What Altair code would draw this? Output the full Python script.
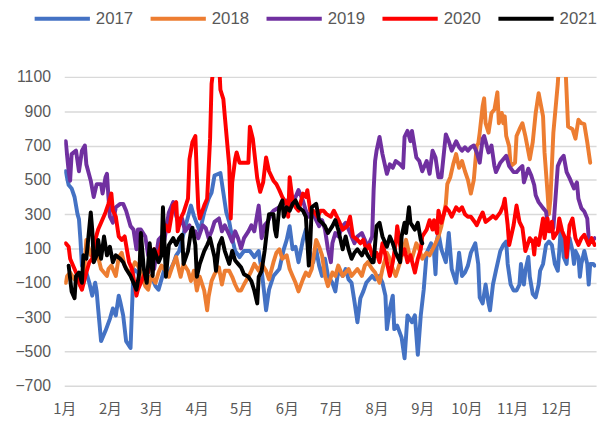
import altair as alt
import pandas as pd

years = ["2017", "2018", "2019", "2020", "2021"]
colors = ["#4472C4", "#ED7D31", "#7030A0", "#FF0000", "#000000"]
line_widths = [4, 4, 4, 4, 7]
month_start_days = [0, 31, 59, 90, 120, 151, 181, 212, 243, 273, 304, 334]
y_ticks = [-700, -500, -300, -100, 100, 300, 500, 700, 900, 1100]

d2017 = [1,3,5,7,9,10,11,12,15,17, 19,21,22,23,25,28,31,33,35,37, 38,40,42,45,47,50,52,55,57,59,
         62,64,66,68,71,74,76,78,82,86, 88,92,95,98,100,102,106,108,110,112, 114,116,119,122,126,129,132,134,136,137,
         139,142,146,149,151,153,155,157,159,162, 164,166,169,171,173,175,177,179,182,184, 186,189,191,193,195,197,199,201,203,205,
         209,211,214,216,218,219,221,223,224,226, 229,231,233,236,238,240,242,244,246,249, 251,252,253,254,256,259,261,263,266,268,
         270,272,274,276,279,281,282,284,286,288, 289,290,291,293,296,298,300,301,303,305, 307,309,310,311,312,313,315,316,318,320,
         322,323,325,327,329,331,333,335,336,337, 338,339,341,342,343,345,346,347,349,350, 351,353,355,356,357,359,360]
v2017 = [550,470,450,400,300,270,150,0,-40,-100, -175,-100,-150,-250,-440,-380,-310,-250,-290,-175, -210,-290,-440,-480,-20,-40,-100,-60,-100,-60,
         -120,-140,-80,-20,-40,10,60,85,220,350, 290,200,310,390,425,525,540,425,310,255, 160,85,50,85,85,50,85,-30,-180,-260,
         -140,-60,-20,95,150,230,95,110,20,150, 210,95,20,95,0,-60,40,-60,-100,-150, -30,-60,-20,-80,-100,-210,-330,-190,-150,-100,
         -60,-80,-60,-100,-175,-370,-250,-175,-370,-350, -420,-540,-290,-330,-290,-520,-290,-140,75,130, 75,-50,150,190,95,20,190,-20,-100,75,
         -60,-40,0,75,130,10,-185,-220,-110,-220, -260,-185,-110,-30,85,120,140,10,-110,-145, -145,-110,10,-65,-110,-30,50,-65,-165,-185,
         -110,-30,10,120,140,120,10,-30,85,220, 160,50,10,120,160,85,10,85,50,-65, 10,85,10,-110,10,10,0]

d2018 = [1,2,4,7,9,11,13,15,18,20, 23,25,29,30,32,35,37,39,41,44, 46,48,50,52,55,57,59,62,64,66,
         69,71,74,76,78,79,81,84,86,88, 90,92,95,97,98,100,102,105,107,109, 112,114,116,118,120,122,125,127,129,132,
         134,137,139,142,144,146,148,151,153,155, 157,159,162,164,166,168,171,173,175,177, 179,182,184,186,189,191,193,195,197,199,
         202,204,206,209,211,212,214,216,219,221, 223,225,228,230,232,234,236,239,241,243, 246,248,250,252,254,256,259,260,262,264,
         266,268,270,272,274,276,278,280,281,282, 284,285,286,288,290,292,294,295,297,298, 299,300,302,303,306,307,309,311,313,316,
         318,320,322,325,326,328,329,330,332,335, 336,338,340,342,345,347,349,351,353,355, 357]
v2018 = [-100,-60,-40,-80,-60,-120,-100,150,60,100, 50,-20,-60,-20,0,-60,50,75,0,-40, -20,20,0,-40,-120,-140,-60,-100,-40,0,
         -30,-65,10,50,-30,-65,10,-30,-90,-30, -145,-65,-145,-260,-180,-90,-50,-10,-110,-30, -30,-65,-110,-145,-145,-110,-65,-30,10,-30,
         10,-30,-80,20,75,95,40,60,-20,-60, -100,-150,-80,-40,-60,-20,150,110,60,-60, -120,-40,-60,0,-60,-40,-20,-60,-40,-20,
         -60,0,20,-20,-40,-60,-100,-20,75,40, -20,-60,20,95,150,75,40,130,95,40, 75,60,95,130,170,230,360,475,515,590,
         650,570,610,550,500,420,500,700,710,775, 930,975,830,775,890,910,1010,830,890,830, 870,755,695,580,600,755,795,830,755,620,
         720,890,1005,870,660,430,300,390,775,1060, 1200,1200,1200,810,795,740,850,830,825,720, 600]

d2019 = [1,3,4,5,8,10,12,14,15,18, 20,22,25,26,28,29,30,31,33,35, 38,40,42,45,47,49,50,52,55,57,
         59,61,64,66,68,71,74,76,78,80, 82,85,87,89,91,94,96,98,100,102, 105,107,109,112,114,116,118,120,122,125,
         127,129,132,134,136,138,141,142,146,151, 155,159,162,164,166,168,171,173,175,177, 179,181,182,184,186,189,191,193,195,197,
         199,202,204,206,209,210,211,212,214,216, 219,221,223,225,228,230,231,233,235,236, 239,241,243,246,248,250,252,254,256,259,
         261,263,266,268,270,272,274,276,278,280, 282,284,285,288,290,292,293,296,298,300, 302,305,307,309,311,312,315,317,319,320,
         322,325,327,328,330,332,335,337,339,341, 343,346,348,349,351,353,355,356,358,360]
v2019 = [725,550,495,650,670,550,670,700,590,495, 400,475,475,420,515,535,400,285,250,340, 360,360,320,230,210,95,210,210,170,60,
         20,-20,150,170,150,310,370,290,235,275, 200,235,180,200,160,235,220,160,200,255, 275,200,235,180,140,200,160,100,160,200,
         235,200,350,160,235,255,310,320,340,380, 360,440,380,320,285,320,265,230,265,210, 95,20,130,190,170,230,250,210,170,130,
         170,190,150,110,170,440,610,670,750,650, 535,590,570,610,590,570,750,785,725,785, 630,610,550,610,535,670,630,515,515,765,
         725,670,725,690,670,690,670,690,700,660, 600,740,755,660,700,580,545,600,620,640, 580,545,545,565,580,485,565,525,470,410,
         370,335,315,255,200,220,580,620,640,545, 510,450,485,390,335,315,275,160,140,160]

d2020 = [1,3,4,7,9,10,12,15,17,19, 21,23,25,28,30,32,33,35,37,39, 41,44,46,48,49,50,52,55,57,59,
         61,64,66,67,69,71,74,76,77,79, 81,84,85,87,89,90,91,92,95,97, 99,100,102,103,105,106,108,109,112,113,
         114,116,117,119,122,125,126,128,131,133, 135,137,139,142,144,146,148,151,152,153, 155,157,159,162,164,165,167,169,172,174,
         176,178,181,183,185,187,189,192,194,196, 199,201,203,205,207,209,212,214,216,218, 220,221,223,225,226,229,231,233,235,238,
         240,242,243,246,248,250,251,253,254,256, 259,261,263,266,268,270,272,274,276,279, 280,282,284,286,289,291,293,296,298,299,
         301,302,305,307,309,311,313,316,318,319, 320,322,325,326,328,329,331,332,335,336, 338,340,341,343,345,347,349,351,353,356,
         358,360]
v2020 = [130,110,40,-20,-60,-100,-140,-40,20,40, 150,210,250,310,360,420,320,285,170,150, 170,20,-20,-120,-175,-140,-100,-40,-40,60,
         95,60,130,160,235,200,350,370,200,275, 310,390,620,720,755,525,335,275,350,390, 740,1060,1200,1200,1200,1025,970,870,580,275,
         485,620,660,600,600,600,810,740,510,430, 485,630,550,495,475,440,400,360,285,515, 380,340,320,420,400,440,320,320,285,320,
         320,300,285,320,285,250,210,230,285,170, 150,130,150,95,120,60,75,20,130,60, -20,-60,20,130,230,60,95,20,60,-40,
         40,95,170,210,265,210,265,190,320,250, 340,320,285,340,320,340,300,285,285,250, 235,275,310,255,275,290,275,310,350,390,
         235,120,235,350,255,220,85,160,140,65, 160,120,275,160,275,200,255,160,200,275, 200,160,50,235,275,160,120,160,180,120,
         160,120]

d2021 = [3,5,7,8,10,12,13,15,18,19, 20,22,23,25,27,29,31,33,35,38, 40,42,45,47,49,51,52,54,56,58,
         60,61,64,66,67,69,71,74,76,78, 80,81,84,86,87,89,90,92,95,97, 99,102,103,105,107,109,112,114,116,118,
         120,122,125,127,129,131,132,134,136,138, 139,142,143,144,146,148,149,151,153,155, 157,159,162,164,166,167,168,171,173,175,
         177,179,182,184,186,189,191,193,195,197, 199,202,204,206,209,210,212,214,216,219, 221,223,225,228,229,231,232,234,235,238,
         240,242,243]
v2021 = [0,-150,-190,-60,-40,-100,60,40,310,210, 20,60,150,40,170,60,110,20,60,40, 20,-20,-60,-100,-140,-40,190,-20,-100,130,
         -60,95,20,60,340,-65,120,160,120,160, 180,10,85,200,220,120,-65,10,85,120, 160,50,-30,120,160,85,10,85,30,10,
         -10,-50,-65,-90,-145,-220,-65,-30,85,235, 300,300,210,170,340,380,285,340,320,360, 380,340,320,285,0,130,340,360,265,250,
         230,190,230,265,210,95,170,95,40,75, 95,60,95,60,20,20,230,250,170,110, 170,130,75,20,170,250,190,340,250,210,
         250,150,130]

rows = []
for yr, ds, vs in zip(years, [d2017, d2018, d2019, d2020, d2021], [v2017, v2018, v2019, v2020, v2021]):
    for i, (d, v) in enumerate(zip(ds, vs)):
        rows.append({"year": yr, "day": d, "value": v, "i": i})
df = pd.DataFrame(rows)

CJK_FONT = "Noto Sans CJK SC"
NUM_FONT = "Liberation Sans"
GRAY = "#595959"

chart = alt.Chart(df).mark_line(clip=True, strokeCap="round", strokeJoin="round").encode(
    x=alt.X("day:Q",
            scale=alt.Scale(domain=[0, 361], nice=False, zero=False),
            axis=alt.Axis(values=month_start_days,
                          labelExpr="(month(datetime(2021, 0, 1 + datum.value)) + 1) + '月'",
                          grid=False, domain=False, ticks=False, labelPadding=16,
                          labelFontSize=15, labelColor=GRAY, labelFont=CJK_FONT,
                          labelFlush=False, labelOverlap=False, title=None)),
    y=alt.Y("value:Q",
            scale=alt.Scale(domain=[-700, 1100], nice=False, zero=False),
            axis=alt.Axis(values=y_ticks, format="d", grid=True, gridColor="#D9D9D9", gridWidth=1.5,
                          domain=False, ticks=False, labelPadding=14,
                          labelFontSize=16, labelColor=GRAY, labelFont=NUM_FONT,
                          labelOverlap=False, title=None)),
    color=alt.Color("year:N",
                    scale=alt.Scale(domain=years, range=colors),
                    legend=alt.Legend(orient="none", legendX=-32, legendY=-89,
                                      direction="horizontal", title=None,
                                      symbolType="stroke", symbolSize=3136, symbolStrokeWidth=4.5,
                                      labelFontSize=17, labelColor=GRAY, labelFont=NUM_FONT,
                                      labelOffset=4, columnPadding=9.5, padding=0)),
    strokeWidth=alt.StrokeWidth("year:N", scale=alt.Scale(domain=years, range=line_widths), legend=None),
    order=alt.Order("i:Q"),
).properties(
    width=539, height=313,
    autosize=alt.AutoSizeParams(type="none"),
    padding={"left": 57, "top": 67, "right": 7, "bottom": 38},
).configure_view(stroke=None)

chart.save("out.html", embed_options={"renderer": "svg", "actions": False})
